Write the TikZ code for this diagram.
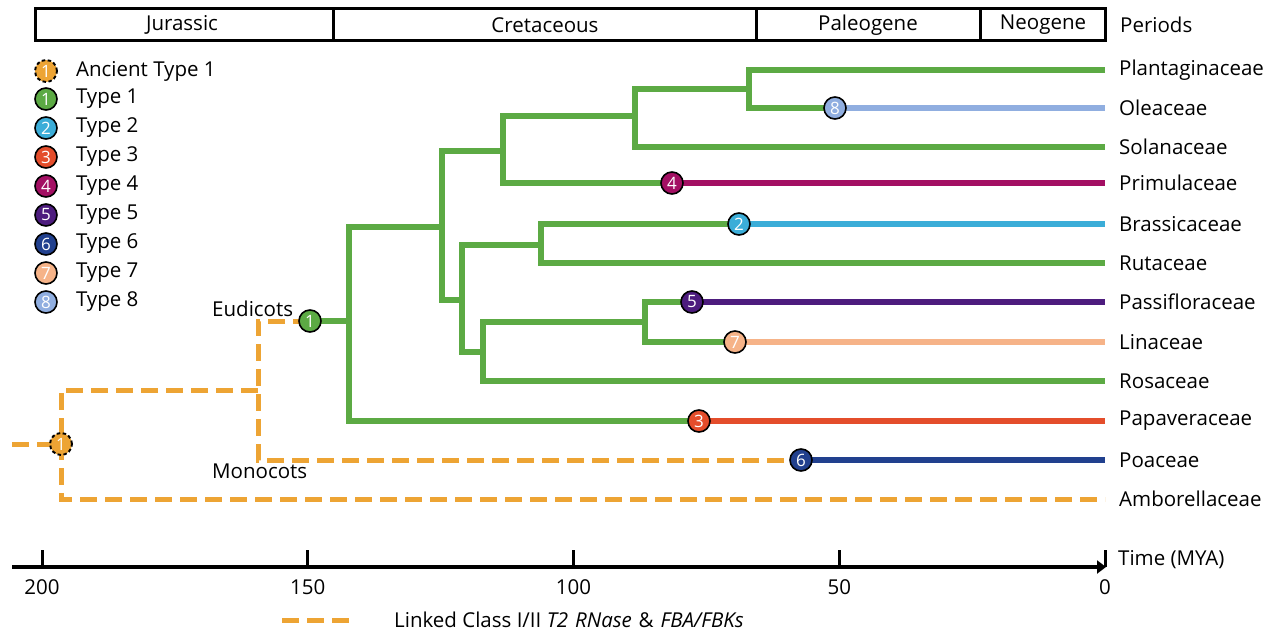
\documentclass[tikz,border=0pt]{standalone}
\usepackage{fontspec}
\setmainfont{Open Sans}
\usetikzlibrary{positioning,arrows.meta}

\definecolor{grn}{HTML}{5CAA44}
\definecolor{orng}{HTML}{EDA434}
\definecolor{tblue}{HTML}{3BADD8}
\definecolor{tred}{HTML}{E44D2B}
\definecolor{tmag}{HTML}{A30F63}
\definecolor{tpurp}{HTML}{4D1C7E}
\definecolor{tnavy}{HTML}{21408E}
\definecolor{tpeach}{HTML}{F6B388}
\definecolor{tlblue}{HTML}{90AEE0}

\begin{document}
\begin{tikzpicture}[x=1pt, y=-1pt,
    every node/.style={font=\fontsize{20.5}{24}\selectfont},
    branch/.style={line width=6pt, grn},
    olink/.style={line width=5pt, orng, dash pattern=on 17pt off 8pt},
    typeline/.style={line width=6pt},
    typecirc/.style={circle, draw=black, line width=1.6pt, minimum size=22pt,
        inner sep=0pt, text=white, font=\fontsize{17}{17}\selectfont},
    anccirc/.style={typecirc, fill=orng, line width=1.9pt, dash pattern=on 3.5pt off 2.5pt},
    taxon/.style={anchor=west, inner sep=2pt},
    period/.style={inner sep=0pt}]
\useasboundingbox (0,0) rectangle (1280,642);

% periods bar
\draw[line width=3pt] (35,9) rectangle (1105,41);
\foreach \x in {333,756,980}
    \draw[line width=3pt] (\x,9) -- (\x,41);
\node[period] (jur) at (182,25) {Jurassic};
\node[period] (cre) at (545,25) {Cretaceous};
\node[period] (pal) at (868,25) {Paleogene};
\node[period] (neo) at (1043,25) {Neogene};
\node[taxon] (per) at (1118,25) {Periods};

% legend of types
\node[anccirc] (lg0) at (46,71) {1};
\node[taxon, right=16pt of lg0] (lgt0) {Ancient Type 1};
\foreach \n/\c/\y in {1/grn/99, 2/tblue/128, 3/tred/157, 4/tmag/186,
        5/tpurp/215, 6/tnavy/244, 7/tpeach/273, 8/tlblue/302} {
    \node[typecirc, fill=\c] (lg\n) at (46,\y) {\n};
    \node[taxon, right=16pt of lg\n] (lgt\n) {Type \n};
}

% tips
\foreach \t/\y in {pla/70, ole/108, sol/147, pri/183, bra/224, rut/263,
        pas/302, lin/342, ros/381, pap/421, poa/460, amb/499}
    \coordinate (\t) at (1105,\y);

% internal nodes and type changes
\coordinate (stem) at (12,444);
\coordinate (anc) at (61,444);
\coordinate (ang) at (258,390);
\coordinate (eud) at (310,321);
\coordinate (e0) at (349,321);
\coordinate (e1) at (442,227);
\coordinate (e2) at (503,151);
\coordinate (e3) at (462,300);
\coordinate (e4) at (635,116);
\coordinate (e5) at (749,89);
\coordinate (e6) at (541,245);
\coordinate (e7) at (483,352);
\coordinate (e8) at (645,322);
\coordinate (t2) at (739,224);
\coordinate (t3) at (699,421);
\coordinate (t4) at (672,183);
\coordinate (t5) at (692,302);
\coordinate (t6) at (801,460);
\coordinate (t7) at (735,342);
\coordinate (t8) at (835,108);

% ancient lineages
\draw[olink] (stem) -- (anc);
\draw[olink] (ang) -| (anc) |- (amb);
\draw[olink] (eud) -| (ang) |- (t6);

% eudicots
\draw[branch] (eud) -- (e0);
\draw[branch] (e1) -| (e0) |- (t3);
\draw[branch] (e2) -| (e1) |- (e3);
\draw[branch] (e4) -| (e2) |- (t4);
\draw[branch] (e5) -| (e4) |- (sol);
\draw[branch] (pla) -| (e5) |- (t8);
\draw[branch] (e6) -| (e3) |- (e7);
\draw[branch] (t2) -| (e6) |- (rut);
\draw[branch] (e8) -| (e7) |- (ros);
\draw[branch] (t5) -| (e8) |- (t7);

\draw[typeline, tblue] (t2) -- (bra);
\draw[typeline, tred] (t3) -- (pap);
\draw[typeline, tmag] (t4) -- (pri);
\draw[typeline, tpurp] (t5) -- (pas);
\draw[typeline, tnavy] (t6) -- (poa);
\draw[typeline, tpeach] (t7) -- (lin);
\draw[typeline, tlblue] (t8) -- (ole);

\node[anccirc] (ancC) at (anc) {1};
\node[typecirc, fill=grn] (eudC) at (eud) {1};
\node[typecirc, fill=tblue] (c2) at (t2) {2};
\node[typecirc, fill=tred] (c3) at (t3) {3};
\node[typecirc, fill=tmag] (c4) at (t4) {4};
\node[typecirc, fill=tpurp] (c5) at (t5) {5};
\node[typecirc, fill=tnavy] (c6) at (t6) {6};
\node[typecirc, fill=tpeach] (c7) at (t7) {7};
\node[typecirc, fill=tlblue] (c8) at (t8) {8};

\node[anchor=west, inner sep=1pt] (eudL) at (211,309) {Eudicots};
\node[anchor=west, inner sep=1pt] (monL) at (211,471) {Monocots};

% taxa
\foreach \t/\l in {pla/Plantaginaceae, ole/Oleaceae, sol/Solanaceae,
        pri/Primulaceae, bra/Brassicaceae, rut/Rutaceae, pas/Passifloraceae,
        lin/Linaceae, ros/Rosaceae, pap/Papaveraceae, poa/Poaceae,
        amb/Amborellaceae}
    \node[taxon, xshift=12pt] (\t L) at (\t) {\l};

% time axis
\coordinate (ax0) at (12,567);
\coordinate (ax1) at (1106,567);
\draw[line width=3.5pt, -{Triangle[length=9pt,width=13pt]}] (ax0) -- (ax1);
\foreach \v in {200,150,100,50,0} {
    \draw[line width=3pt] ({42+(200-\v)*5.315},550) -- ({42+(200-\v)*5.315},567);
    \node (tk\v) at ({42+(200-\v)*5.315},587) {\v};
}
\node[taxon] (time) at (1116,560) {Time (MYA)};

% line legend
\coordinate (lk0) at (282,620);
\coordinate (lk1) at (352,620);
\draw[olink] (lk0) -- (lk1);
\node[taxon] (lkL) at (392,620) {Linked Class I/II \textit{T2\,\,RNase}\,\,\&\,\,\textit{FBA/FBKs}};
\end{tikzpicture}
\end{document}
